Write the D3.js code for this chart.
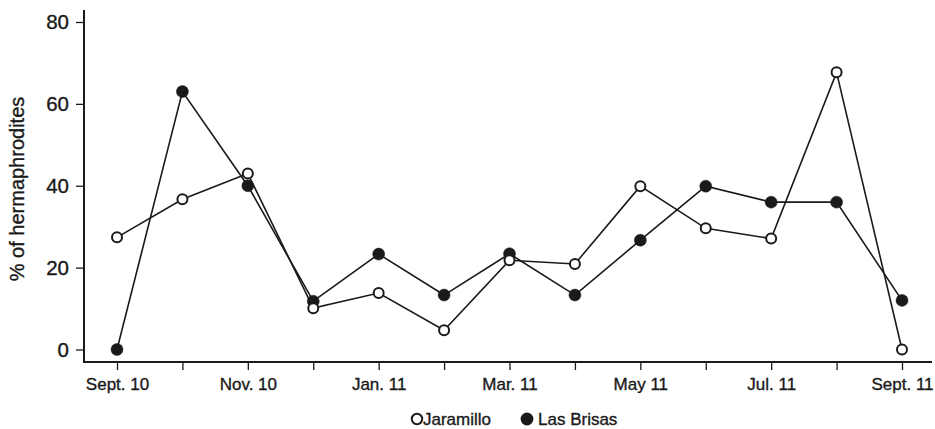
<!DOCTYPE html>
<html>
<head>
<meta charset="utf-8">
<script src="https://cdn.jsdelivr.net/npm/d3@7"></script>
<style>
  html, body { margin: 0; padding: 0; background: #fff; }
  svg { display: block; font-family: "Liberation Sans", Arial, sans-serif; }
  text { stroke: #1a1a1a; stroke-width: 0.35px; }
</style>
</head>
<body>
<svg id="chart" width="935" height="429"></svg>
<script>
const months = ["Sept. 10","Oct. 10","Nov. 10","Dec. 10","Jan. 11","Feb. 11","Mar. 11","Apr. 11","May 11","Jun. 11","Jul. 11","Aug. 11","Sept. 11"];
const tickLabels = ["Sept. 10","","Nov. 10","","Jan. 11","","Mar. 11","","May 11","","Jul. 11","","Sept. 11"];
const jaramillo = [27.4, 36.7, 43.0, 10.1, 13.8, 4.7, 21.8, 20.9, 39.9, 29.6, 27.1, 67.7, 0];
const lasBrisas = [0, 63.0, 40.0, 11.8, 23.3, 13.3, 23.4, 13.3, 26.7, 39.9, 36.0, 36.0, 12.0];
const yTicks = [0, 20, 40, 60, 80];

const svg = d3.select("#chart");
const ink = "#1a1a1a";

const x = d3.scalePoint().domain(months).range([117, 902]);
const y = d3.scaleLinear().domain([0, 80]).range([349.5, 22]);

// Y axis
const yAxis = d3.axisLeft(y).tickValues(yTicks).tickSize(8).tickPadding(7);
const gy = svg.append("g").attr("transform", "translate(84,0)").call(yAxis);
gy.select(".domain").remove();
gy.append("line").attr("x1", 0).attr("x2", 0).attr("y1", 10).attr("y2", 363)
  .attr("stroke", ink).attr("stroke-width", 2);
gy.selectAll(".tick line").attr("stroke", ink).attr("stroke-width", 1.3);
gy.selectAll(".tick text").attr("fill", ink).style("font-size", "20.5px")
  .style("font-family", "'Liberation Sans', Arial, sans-serif");

// X axis
const xAxis = d3.axisBottom(x).tickSize(8).tickPadding(8)
  .tickFormat((d, i) => tickLabels[i]);
const gx = svg.append("g").attr("transform", "translate(0,362)").call(xAxis);
gx.select(".domain").remove();
gx.append("line").attr("x1", 83).attr("x2", 932).attr("y1", 0).attr("y2", 0)
  .attr("stroke", ink).attr("stroke-width", 2);
gx.selectAll(".tick line").attr("stroke", ink).attr("stroke-width", 1.3);
gx.selectAll(".tick text").attr("fill", ink).style("font-size", "17px")
  .style("font-family", "'Liberation Sans', Arial, sans-serif");

// Y label
svg.append("text")
  .attr("transform", "translate(24,189) rotate(-90)")
  .attr("text-anchor", "middle")
  .attr("fill", ink)
  .style("font-size", "20px")
  .text("% of hermaphrodites");

const line = d3.line().x((d, i) => x(months[i])).y(d => y(d));

function series(data, filled) {
  svg.append("path").datum(data).attr("d", line)
    .attr("fill", "none").attr("stroke", ink).attr("stroke-width", 1.6);
  svg.append("g").selectAll("circle").data(data).join("circle")
    .attr("cx", (d, i) => x(months[i]))
    .attr("cy", d => y(d))
    .attr("r", filled ? 6 : 5)
    .attr("fill", filled ? ink : "#fff")
    .attr("stroke", ink)
    .attr("stroke-width", filled ? 0.5 : 2);
}
series(lasBrisas, true);
series(jaramillo, false);

// Legend
const leg = svg.append("g");
leg.append("circle").attr("cx", 417).attr("cy", 419).attr("r", 5.2)
  .attr("fill", "#fff").attr("stroke", ink).attr("stroke-width", 2);
leg.append("text").attr("x", 423).attr("y", 425).attr("fill", ink)
  .style("font-size", "17px").text("Jaramillo");
leg.append("circle").attr("cx", 527).attr("cy", 419).attr("r", 6.4)
  .attr("fill", ink);
leg.append("text").attr("x", 538).attr("y", 425).attr("fill", ink)
  .style("font-size", "17px").text("Las Brisas");
</script>
</body>
</html>
